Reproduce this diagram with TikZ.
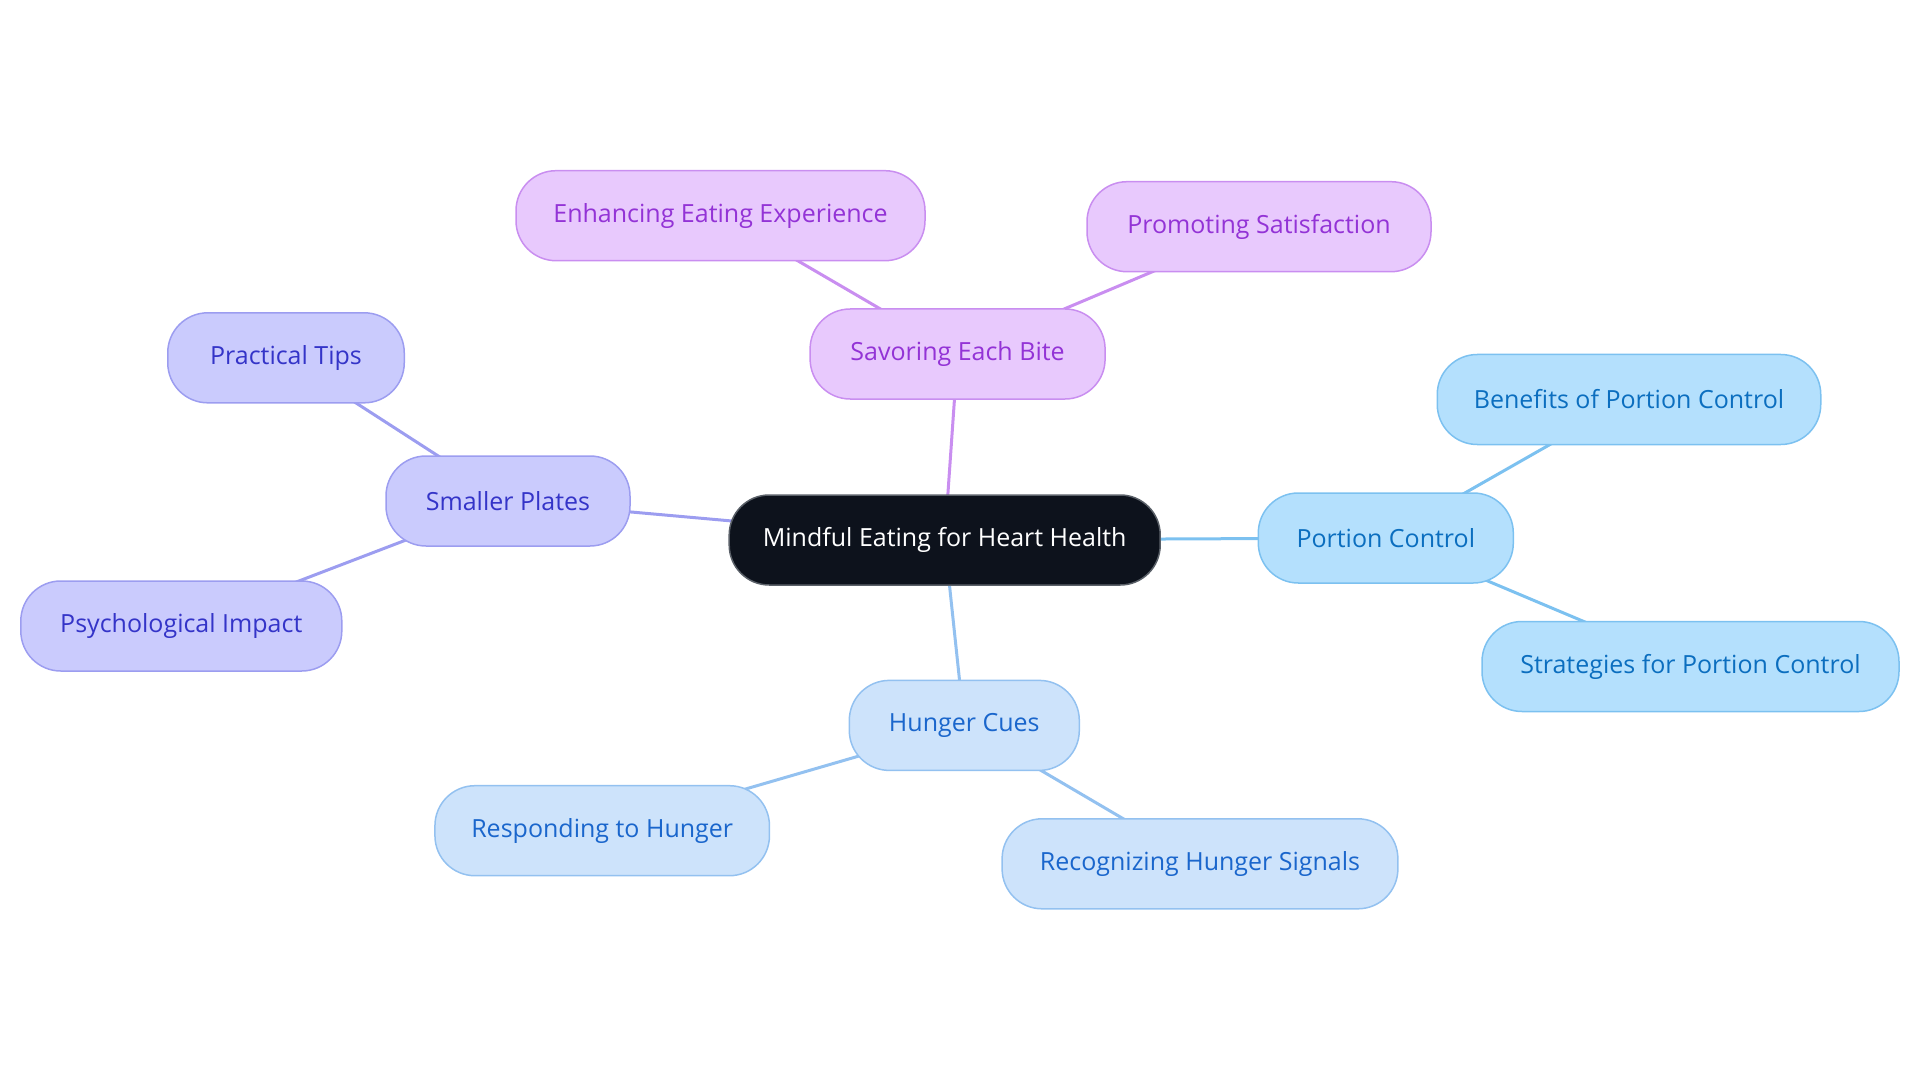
\documentclass[tikz,border=0pt]{standalone}
\usepackage{fontspec}
\setmainfont{Open Sans}
\usetikzlibrary{backgrounds}
\definecolor{cfill}{HTML}{0D121C}
\definecolor{cborder}{HTML}{5A6068}
\definecolor{pufill}{HTML}{E8C9FD}
\definecolor{puline}{HTML}{C98EF0}
\definecolor{putext}{HTML}{9333D6}
\definecolor{lafill}{HTML}{CACBFD}
\definecolor{laline}{HTML}{9C9DF0}
\definecolor{latext}{HTML}{3434C8}
\definecolor{pbfill}{HTML}{CDE3FB}
\definecolor{pbline}{HTML}{93C1F0}
\definecolor{pbtext}{HTML}{1A66CC}
\definecolor{lbfill}{HTML}{B4E0FD}
\definecolor{lbline}{HTML}{7CC1F0}
\definecolor{lbtext}{HTML}{0B6EBF}
\tikzset{
  pill/.style={rectangle, rounded corners=40pt, minimum height=90pt, line width=1.5pt, inner sep=0pt, font=\fontsize{25}{30}\selectfont},
  central/.style={pill, fill=cfill, draw=cborder, text=white},
  purple/.style={pill, fill=pufill, draw=puline, text=putext},
  lavender/.style={pill, fill=lafill, draw=laline, text=latext},
  paleblue/.style={pill, fill=pbfill, draw=pbline, text=pbtext},
  lightblue/.style={pill, fill=lbfill, draw=lbline, text=lbtext},
  edge/.style={line width=3pt},
}
\begin{document}
\begin{tikzpicture}[x=1pt,y=-1pt]
\useasboundingbox (0,0) rectangle (1920,1083);
\node[central, minimum width=431pt] (c) at (944.7,540) {Mindful Eating for Heart Health};
\node[purple, minimum width=295pt] (seb) at (957.6,354) {Savoring Each Bite};
\node[purple, minimum width=409pt] (eee) at (720.5,215.7) {Enhancing Eating Experience};
\node[purple, minimum width=344pt] (ps) at (1259,226.7) {Promoting Satisfaction};
\node[lavender, minimum width=244pt] (sp) at (508,501) {Smaller Plates};
\node[lavender, minimum width=236.5pt] (pt) at (286,357.8) {Practical Tips};
\node[lavender, minimum width=321pt] (pi) at (181.3,626) {Psychological Impact};
\node[lightblue, minimum width=255pt] (pc) at (1385.8,538) {Portion Control};
\node[lightblue, minimum width=383.5pt] (bpc) at (1629,399.5) {Benefits of Portion Control};
\node[lightblue, minimum width=417pt] (spc) at (1690.5,666.5) {Strategies for Portion Control};
\node[paleblue, minimum width=230pt] (hc) at (964.3,725.4) {Hunger Cues};
\node[paleblue, minimum width=334.5pt] (rh) at (602.2,830.7) {Responding to Hunger};
\node[paleblue, minimum width=395.8pt] (rhs) at (1200,863.8) {Recognizing Hunger Signals};
\begin{scope}[on background layer]
\draw[edge, puline] (c.center) -- (seb.center);
\draw[edge, puline] (seb.center) -- (eee.center);
\draw[edge, puline] (seb.center) -- (ps.center);
\draw[edge, laline] (c.center) -- (sp.center);
\draw[edge, laline] (sp.center) -- (pt.center);
\draw[edge, laline] (sp.center) -- (pi.center);
\draw[edge, lbline] (c.center) -- (pc.center);
\draw[edge, lbline] (pc.center) -- (bpc.center);
\draw[edge, lbline] (pc.center) -- (spc.center);
\draw[edge, pbline] (c.center) -- (hc.center);
\draw[edge, pbline] (hc.center) -- (rh.center);
\draw[edge, pbline] (hc.center) -- (rhs.center);
\end{scope}
\end{tikzpicture}
\end{document}
